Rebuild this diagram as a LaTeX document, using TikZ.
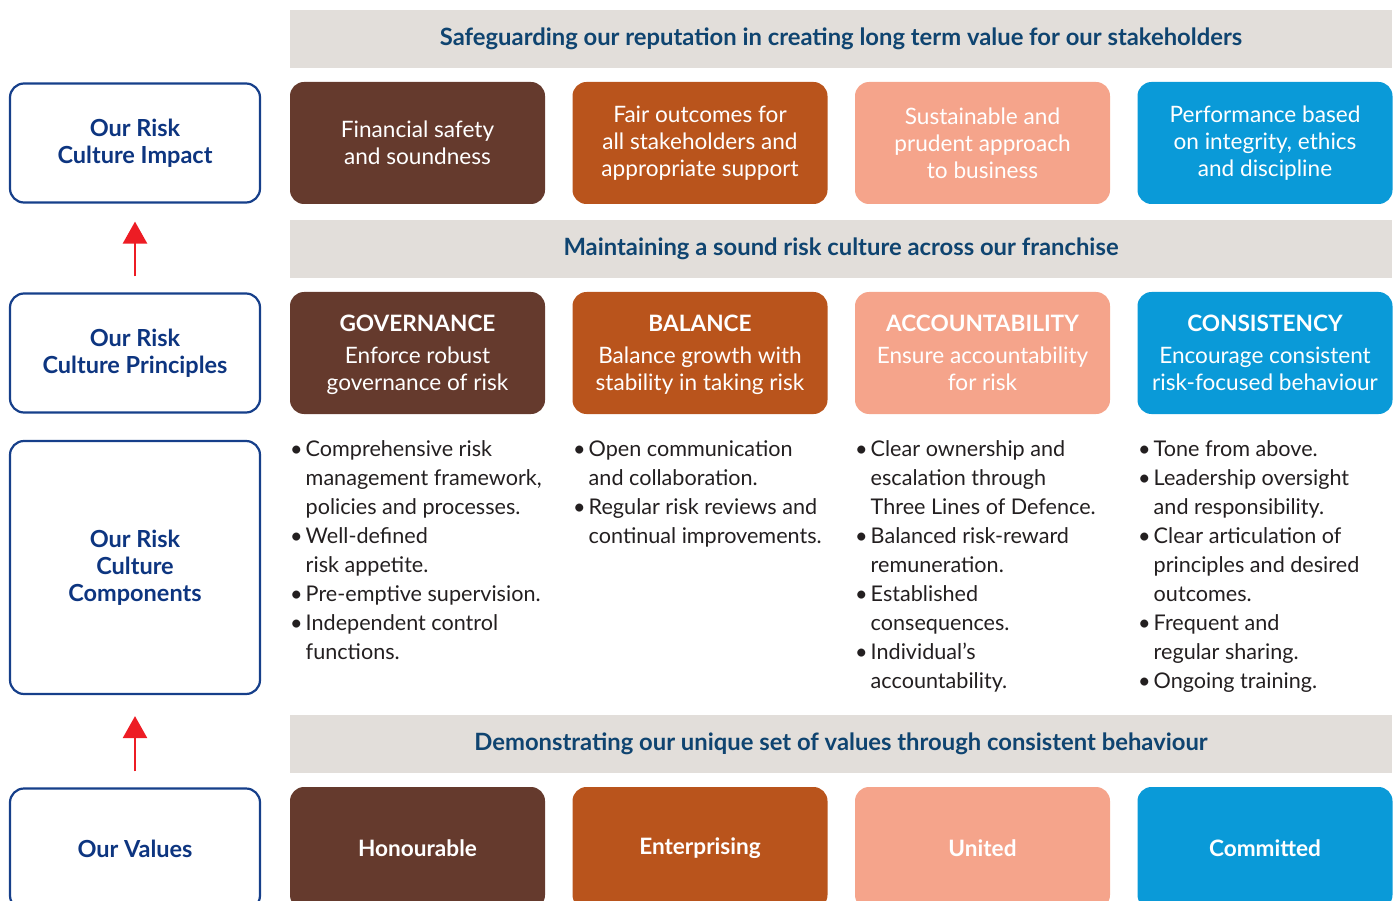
\documentclass[tikz,border=0pt]{standalone}
\usepackage{fontspec}
\setmainfont{Lato}
\usetikzlibrary{positioning,arrows.meta}
\definecolor{riskbrown}{HTML}{653A2D}
\definecolor{riskorange}{HTML}{B9541C}
\definecolor{risksalmon}{HTML}{F5A48B}
\definecolor{riskblue}{HTML}{0A9AD8}
\definecolor{bandgray}{HTML}{E2DEDA}
\definecolor{bandtext}{HTML}{0F4470}
\definecolor{sidenavy}{HTML}{163F8A}
\definecolor{sidetext}{HTML}{0D3580}
\definecolor{listtext}{HTML}{231F20}
\definecolor{arrowred}{HTML}{ED1C24}
\newcommand{\bulletlist}[1]{{\fontsize{21.6}{29}\selectfont
  \begin{tabular}{@{}l@{\hspace{3pt}}l@{}}#1\end{tabular}}}
\begin{document}
\begin{tikzpicture}[x=1pt,y=-1pt,
    side/.style = {draw=sidenavy, line width=2.2pt, rounded corners=14pt,
      minimum width=250pt, align=center, text=sidetext,
      font=\fontsize{23.5}{27}\selectfont\bfseries},
    band/.style = {fill=bandgray, minimum width=1102pt, minimum height=58pt,
      inner sep=0pt, text=bandtext, font=\fontsize{23.8}{25}\selectfont\bfseries},
    tile/.style = {rounded corners=14pt, minimum width=255pt, minimum height=122pt,
      inner sep=0pt, outer sep=0pt, align=center, text=white,
      font=\fontsize{22.6}{27}\selectfont},
    bullets/.style = {anchor=north west, inner sep=0pt, text=listtext},
    uparrow/.style = {draw=arrowred, line width=2.5pt,
      -{Triangle[width=24pt,length=22pt]}}]
  \useasboundingbox (0,0) rectangle (1397,901);
  \clip (0,0) rectangle (1397,901);
  % left column
  \node[side, minimum height=119pt] (impact) at (135,143) {Our Risk\\Culture Impact};
  \node[side, minimum height=119pt] (principles) at (135,353) {Our Risk\\Culture Principles};
  \node[side, minimum height=253pt] (components) at (135,567.5) {Our Risk\\Culture\\Components};
  \node[side, minimum height=121pt] (values) at (135,849) {Our Values};
  \draw[uparrow, shorten <=16pt, shorten >=18pt] (principles) -- (impact);
  \draw[uparrow, shorten <=16pt, shorten >=21pt] (values) -- (components);
  % bands
  \node[band] (band1) at (841,39) {Safeguarding our reputation in creating long term value for our stakeholders};
  \node[band] (band2) at (841,249) {Maintaining a sound risk culture across our franchise};
  \node[band] (band3) at (841,744) {Demonstrating our unique set of values through consistent behaviour};
  % impact row
  \node[tile, fill=riskbrown] (fin) at (417.5,143) {Financial safety\\and soundness};
  \node[tile, fill=riskorange, right=27.5pt of fin] (fair) {Fair outcomes for\\all stakeholders and\\appropriate support};
  \node[tile, fill=risksalmon, right=27.5pt of fair] (sust) {Sustainable and\\prudent approach\\to business};
  \node[tile, fill=riskblue, right=27.5pt of sust] (perf) {Performance based\\on integrity, ethics\\and discipline};
  % principles row
  \node[tile, fill=riskbrown, text depth=-5pt] (gov) at (417.5,353) {\textbf{GOVERNANCE}\\[5pt]Enforce robust\\governance of risk};
  \node[tile, fill=riskorange, text depth=-5pt, right=27.5pt of gov] (bal) {\textbf{BALANCE}\\[5pt]Balance growth with\\stability in taking risk};
  \node[tile, fill=risksalmon, text depth=-5pt, right=27.5pt of bal] (acc) {\textbf{ACCOUNTABILITY}\\[5pt]Ensure accountability\\for risk};
  \node[tile, fill=riskblue, text depth=-5pt, right=27.5pt of acc] (cons) {\textbf{CONSISTENCY}\\[5pt]Encourage consistent\\risk-focused behaviour};
  % components lists
  \node[bullets] (govlist) at (290,436) {\bulletlist{%
    \textbullet & Comprehensive risk\\ & management framework,\\ & policies and processes.\\
    \textbullet & Well-defined\\ & risk appetite.\\
    \textbullet & Pre-emptive supervision.\\
    \textbullet & Independent control\\ & functions.}};
  \node[bullets] (ballist) at (573,436) {\bulletlist{%
    \textbullet & Open communication\\ & and collaboration.\\
    \textbullet & Regular risk reviews and\\ & continual improvements.}};
  \node[bullets] (acclist) at (855,436) {\bulletlist{%
    \textbullet & Clear ownership and\\ & escalation through\\ & Three Lines of Defence.\\
    \textbullet & Balanced risk-reward\\ & remuneration.\\
    \textbullet & Established\\ & consequences.\\
    \textbullet & Individual’s\\ & accountability.}};
  \node[bullets] (conslist) at (1138,436) {\bulletlist{%
    \textbullet & Tone from above.\\
    \textbullet & Leadership oversight\\ & and responsibility.\\
    \textbullet & Clear articulation of\\ & principles and desired\\ & outcomes.\\
    \textbullet & Frequent and\\ & regular sharing.\\
    \textbullet & Ongoing training.}};
  % values row
  \node[tile, fill=riskbrown, font=\fontsize{22.6}{27}\selectfont\bfseries] (hon) at (417.5,848) {Honourable};
  \node[tile, fill=riskorange, font=\fontsize{22.6}{27}\selectfont\bfseries, right=27.5pt of hon] (ent) {Enterprising};
  \node[tile, fill=risksalmon, font=\fontsize{22.6}{27}\selectfont\bfseries, right=27.5pt of ent] (uni) {United};
  \node[tile, fill=riskblue, font=\fontsize{22.6}{27}\selectfont\bfseries, right=27.5pt of uni] (com) {Committed};
\end{tikzpicture}
\end{document}
